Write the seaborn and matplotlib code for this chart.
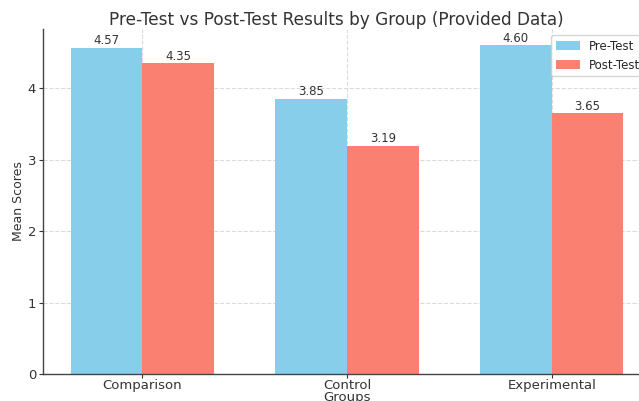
import matplotlib
matplotlib.use("Agg")
import matplotlib.pyplot as plt
import seaborn as sns
import pandas as pd

groups = ["Comparison", "Control", "Experimental"]
pre_test = [4.57, 3.85, 4.60]
post_test = [4.35, 3.19, 3.65]
series = ["Pre-Test", "Post-Test"]
colors = ["#87CEEB", "#FA8072"]

df = pd.DataFrame({
    "Group": groups * 2,
    "Score": pre_test + post_test,
    "Test": [series[0]] * len(groups) + [series[1]] * len(groups),
})

sns.set_style("white")
plt.rcParams["font.family"] = ["DejaVu Sans"]

fig = plt.figure(figsize=(6.39, 4.01), dpi=100)
ax = fig.add_axes([43 / 639, 27 / 401, (651 - 43) / 639, (374 - 29) / 401])

sns.barplot(data=df, x="Group", y="Score", hue="Test", hue_order=series,
            palette=colors, width=0.7, saturation=1, ax=ax, errorbar=None,
            linewidth=0, edgecolor="none")

for container in ax.containers:
    ax.bar_label(container, fmt="%.2f", fontsize=8.5, color="#333333", padding=0.5)

ax.set_xlim(-0.485, 2.485)
ax.set_ylim(0, 4.83)
ax.set_yticks([0, 1, 2, 3, 4])
ax.grid(True, linestyle="--", color="#cccccc", linewidth=0.8, alpha=0.7)
ax.set_axisbelow(True)
for side in ["top", "right"]:
    ax.spines[side].set_visible(False)
for side in ["left", "bottom"]:
    ax.spines[side].set_color("#444444")
    ax.spines[side].set_linewidth(1.0)
ax.tick_params(axis="both", labelsize=9.5, colors="#333333", length=3, width=0.8,
               pad=2, left=True, bottom=True)
ax.tick_params(axis="x", pad=0.8)

ax.set_title("Pre-Test vs Post-Test Results by Group (Provided Data)", fontsize=12.2,
             color="#333333", pad=3, x=0.482)
ax.set_xlabel("Groups", fontsize=9.5, color="#333333", labelpad=-1)
ax.set_ylabel("Mean Scores", fontsize=9, color="#333333", labelpad=1.5)
ax.legend(loc="upper right", fontsize=8.5, frameon=True, handlelength=2.0,
          borderaxespad=0.5)

fig.savefig("out.png", dpi=100)
